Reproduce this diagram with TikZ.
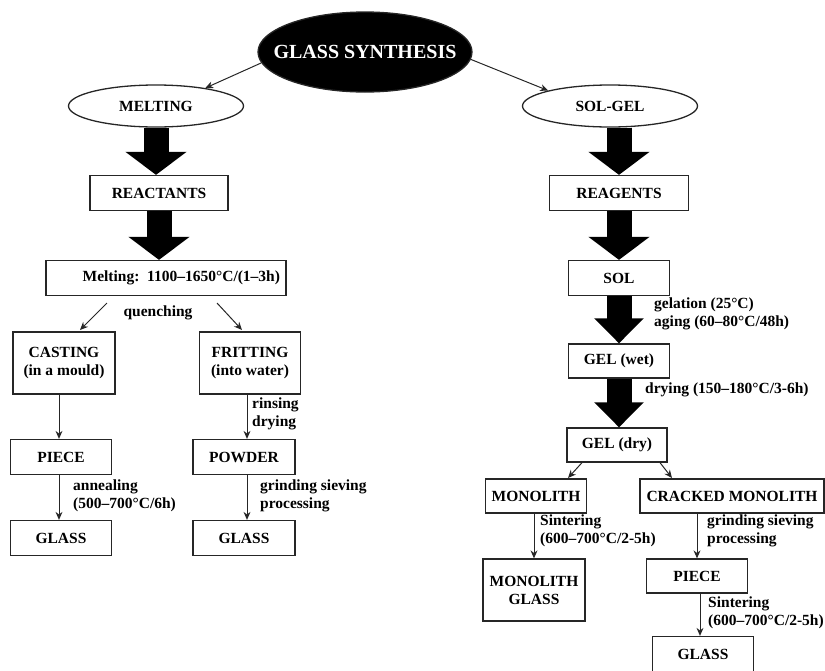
\documentclass[tikz,border=0pt]{standalone}
\usepackage{fontspec}
\setmainfont{Liberation Serif}
\usetikzlibrary{arrows.meta,shapes.geometric}
\begin{document}
\begin{tikzpicture}[x=1pt,y=-1pt,
  font=\fontsize{15.5}{18}\selectfont\bfseries,
  box/.style={draw=black!85, line width=1.3pt, rectangle, inner sep=2pt, align=center},
  oval/.style={draw=black!85, line width=1.3pt, ellipse, inner sep=0pt, minimum width=175pt, minimum height=42pt},
  arr/.style={draw=black!85, line width=1pt, -{Stealth[length=8pt,width=7pt]}},
  fatL/.style={black, line width=25pt, -{Triangle[width=60pt,length=23pt]}},
  fatS/.style={black, line width=25pt, -{Triangle[width=48pt,length=25pt]}},
  lbl/.style={anchor=west, align=left, inner sep=0pt}]
\useasboundingbox (0,0) rectangle (825,670);

% top
\node[oval, fill=black, text=white, inner xsep=-16pt, inner ysep=19pt,
      minimum width=214pt, minimum height=80pt,
      font=\fontsize{20}{24}\selectfont\bfseries] (gs) at (365,52) {GLASS SYNTHESIS};
\node[oval] (melting) at (156,106) {MELTING};
\node[oval] (solgel) at (610,106) {SOL-GEL};

% left branch
\node[box, minimum width=138pt, minimum height=35pt] (reactants) at (159,193) {REACTANTS};
\node[box, minimum width=240pt, minimum height=35pt, text width=228pt, align=right] (meltbox) at (166,278) {Melting: 1100–1650°C/(1–3h)};
\node[box, minimum width=102pt, minimum height=62pt] (casting) at (64,363) {CASTING\\(in a mould)};
\node[box, minimum width=101pt, minimum height=62pt] (fritting) at (250,363) {FRITTING\\(into water)};
\node[box, minimum width=101pt, minimum height=35pt] (piece1) at (61,457) {PIECE};
\node[box, minimum width=101pt, minimum height=35pt] (glass1) at (61,538) {GLASS};
\node[box, minimum width=102pt, minimum height=35pt] (powder) at (244,457) {POWDER};
\node[box, minimum width=102pt, minimum height=35pt] (glass2) at (244,538) {GLASS};

\node (lquench) at (158,313) {quenching};
\node[lbl] (lrinse) at (252,414) {rinsing\\drying};
\node[lbl] (lanneal) at (73,496) {annealing\\(500–700°C/6h)};
\node[lbl] (lgrind1) at (260,496) {grinding sieving\\processing};

% right branch
\node[box, minimum width=139pt, minimum height=35pt] (reagents) at (619,193) {REAGENTS};
\node[box, minimum width=101pt, minimum height=35pt] (sol) at (619,278) {SOL};
\node[box, minimum width=101pt, minimum height=34pt] (gelwet) at (619,361) {GEL (wet)};
\node[box, minimum width=100pt, minimum height=34pt] (geldry) at (617,445) {GEL (dry)};
\node[box, minimum width=101pt, minimum height=34pt] (mono) at (536,496) {MONOLITH};
\node[box, minimum width=184pt, minimum height=34pt] (cracked) at (732,496) {CRACKED MONOLITH};
\node[box, minimum width=102pt, minimum height=62pt] (monoglass) at (534,590) {MONOLITH\\GLASS};
\node[box, minimum width=101pt, minimum height=34pt] (piece2) at (697,576) {PIECE};
\node[box, minimum width=101pt, minimum height=35pt] (glass3) at (703,654) {GLASS};

\node[lbl] (lgel) at (654,314) {gelation (25°C)\\aging (60–80°C/48h)};
\node[lbl] (ldry) at (645,390) {drying (150–180°C/3-6h)};
\node[lbl] (lsint1) at (540,531) {Sintering\\(600–700°C/2-5h)};
\node[lbl] (lgrind2) at (707,531) {grinding sieving\\processing};
\node[lbl] (lsint2) at (708,613) {Sintering\\(600–700°C/2-5h)};

% thin arrows from top
\draw[arr] (gs.186) -- (melting.20);
\draw[arr] (gs.-4) -- (solgel.166);

% fat arrows
\draw[fatL] (melting.south) -- (melting.south |- reactants.north);
\draw[fatL] (reactants.south) -- (reactants.south |- meltbox.north);
\draw[fatL] (reagents.north |- solgel.south) -- (reagents.north);
\draw[fatL] (reagents.south) -- (reagents.south |- sol.north);
\draw[fatS] (sol.south) -- (sol.south |- gelwet.north);
\draw[fatS] (gelwet.south) -- (gelwet.south |- geldry.north);

% quenching
\coordinate (q1s) at (107,303);
\coordinate (q1e) at (80,330);
\coordinate (q2s) at (217,303);
\coordinate (q2e) at (242,330);
\draw[arr] (q1s) -- (q1e);
\draw[arr] (q2s) -- (q2e);

% left verticals
\draw[arr] ([xshift=-5pt]casting.south) -- ([xshift=-5pt]casting.south |- piece1.north);
\draw[arr] ([xshift=-2pt]piece1.south) -- ([xshift=-2pt]piece1.south |- glass1.north);
\draw[arr] ([xshift=-3pt]fritting.south) -- ([xshift=-3pt]fritting.south |- powder.north);
\draw[arr] ([xshift=3pt]powder.south) -- ([xshift=3pt]powder.south |- glass2.north);

% gel dry split
\coordinate (g1e) at (568,478);
\coordinate (g2e) at (672,478);
\draw[arr] ([xshift=-35pt]geldry.south) -- (g1e);
\draw[arr] ([xshift=43pt]geldry.south) -- (g2e);

% right verticals
\draw[arr] (mono.south -| monoglass) -- (monoglass.north);
\draw[arr] (cracked.south -| piece2) -- (piece2.north);
\draw[arr] ([xshift=3pt]piece2.south) -- ([xshift=3pt]piece2.south |- glass3.north);
\end{tikzpicture}
\end{document}
